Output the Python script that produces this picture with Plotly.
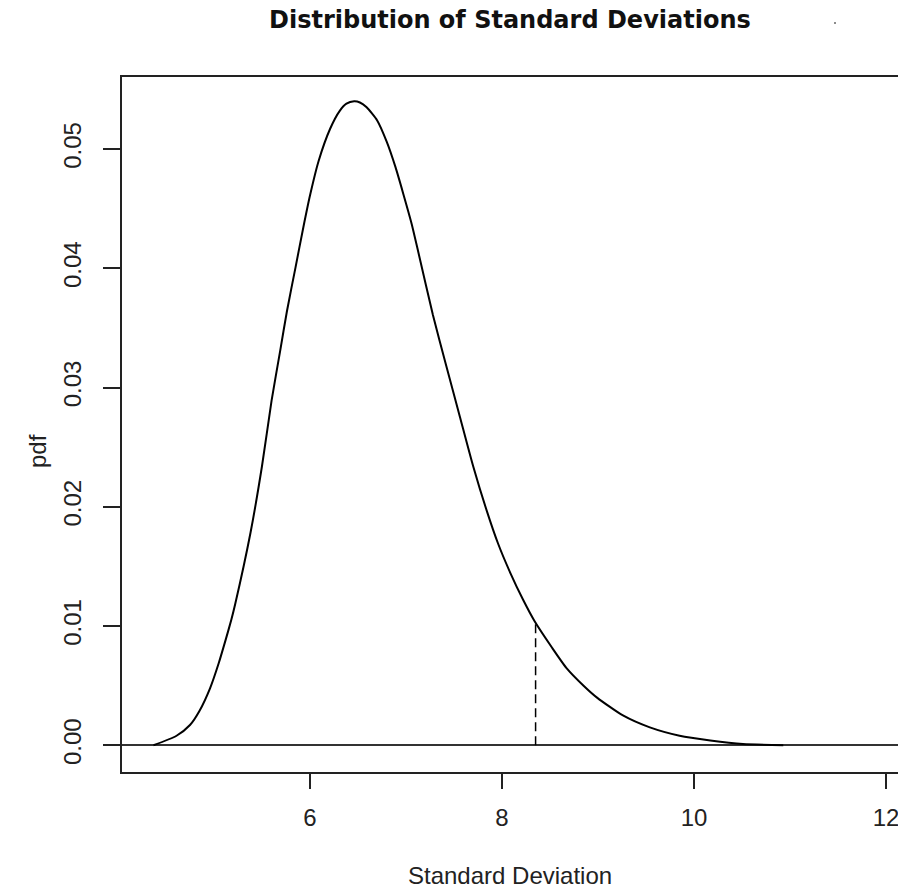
import plotly.graph_objects as go

# Curve
sd_values = [4.37, 4.61, 4.75, 4.85, 4.96, 5.05, 5.12, 5.18, 5.22, 5.38, 5.50, 5.60,
             5.69, 5.76, 5.85, 5.93, 6.00, 6.09, 6.21, 6.31, 6.38, 6.46, 6.52, 6.59,
             6.70, 6.80, 6.89, 6.97, 7.06, 7.13, 7.28, 7.42, 7.56, 7.70, 7.84, 7.96,
             8.09, 8.22, 8.34, 8.52, 8.67, 8.85, 8.99, 9.26, 9.54, 9.85, 10.17, 10.51,
             10.93]
pdf_values = [0.0000, 0.0008, 0.0017, 0.0029, 0.0048, 0.0069, 0.0088, 0.0105, 0.0118,
              0.0178, 0.0234, 0.0289, 0.0331, 0.0364, 0.0401, 0.0434, 0.0461, 0.0490,
              0.0517, 0.0532, 0.0538, 0.0540, 0.0539, 0.0535, 0.0524, 0.0506, 0.0485,
              0.0463, 0.0437, 0.0413, 0.0361, 0.0318, 0.0276, 0.0234, 0.0197, 0.0169,
              0.0144, 0.0122, 0.0104, 0.0082, 0.0065, 0.0050, 0.0040, 0.0025, 0.0015,
              0.0008, 0.0004, 0.0001, 0.0000]

cutoff_sd = 8.35
cutoff_pdf = 0.0102

x_ticks = [6, 8, 10, 12]
y_ticks = [0.00, 0.01, 0.02, 0.03, 0.04, 0.05]
y_tick_labels = ["0.00", "0.01", "0.02", "0.03", "0.04", "0.05"]

title_text = "Distribution of Standard Deviations"
x_title = "Standard Deviation"
y_title = "pdf"

fig = go.Figure()
fig.add_trace(go.Scatter(x=sd_values, y=pdf_values, mode="lines",
                         line=dict(color="black", width=2, shape="spline", smoothing=0.6),
                         hoverinfo="skip"))
fig.add_trace(go.Scatter(x=[cutoff_sd, cutoff_sd], y=[0, cutoff_pdf], mode="lines",
                         line=dict(color="black", width=1.5, dash="9px,5px"),
                         hoverinfo="skip"))

font_main = "Liberation Sans, Arial, sans-serif"

fig.update_layout(
    width=898, height=888,
    margin=dict(l=122, r=0, t=77, b=116),
    paper_bgcolor="white", plot_bgcolor="white",
    showlegend=False,
    font=dict(family=font_main, size=24, color="#222"),
    xaxis=dict(range=[4.042, 12.125], tickvals=x_ticks, ticktext=[str(v) for v in x_ticks],
               showgrid=False, zeroline=False, showline=True, linecolor="#222", linewidth=2,
               mirror=True, ticks="outside", ticklen=15, tickwidth=2, tickcolor="#222",
               ticklabeloverflow="allow",
               tickfont=dict(size=24, color="#222", family=font_main), ticklabelstandoff=8),
    yaxis=dict(range=[-0.00224, 0.05604], tickvals=y_ticks, ticktext=y_tick_labels,
               showgrid=False, zeroline=True, zerolinecolor="#333", zerolinewidth=1.5,
               showline=True, linecolor="#222", linewidth=2, mirror=False,
               ticks="outside", ticklen=17, tickwidth=2, tickcolor="#222", tickangle=-90,
               tickfont=dict(size=24, color="#222", family=font_main), ticklabelstandoff=12),
    annotations=[
        dict(text="<b>" + title_text + "</b>", xref="paper", yref="paper",
             x=(510 - 122) / 776, y=(772 - 20) / 695, showarrow=False,
             xanchor="center", yanchor="middle",
             font=dict(family="DejaVu Sans, sans-serif", size=24, color="#111")),
        dict(text=x_title, xref="paper", yref="paper",
             x=(510 - 122) / 776, y=(772 - 875) / 695, showarrow=False,
             xanchor="center", yanchor="middle",
             font=dict(family=font_main, size=24, color="#222")),
        dict(text=y_title, xref="paper", yref="paper",
             x=(37 - 122) / 776, y=(772 - 451) / 695, showarrow=False, textangle=-90,
             xanchor="center", yanchor="middle",
             font=dict(family=font_main, size=24, color="#222")),
    ],
    shapes=[dict(type="circle", xref="paper", yref="paper",
                 x0=(834 - 122) / 776, x1=(836 - 122) / 776,
                 y0=(772 - 24) / 695, y1=(772 - 22) / 695,
                 fillcolor="#666", line=dict(width=0))],
)

fig.write_html("out.html")
